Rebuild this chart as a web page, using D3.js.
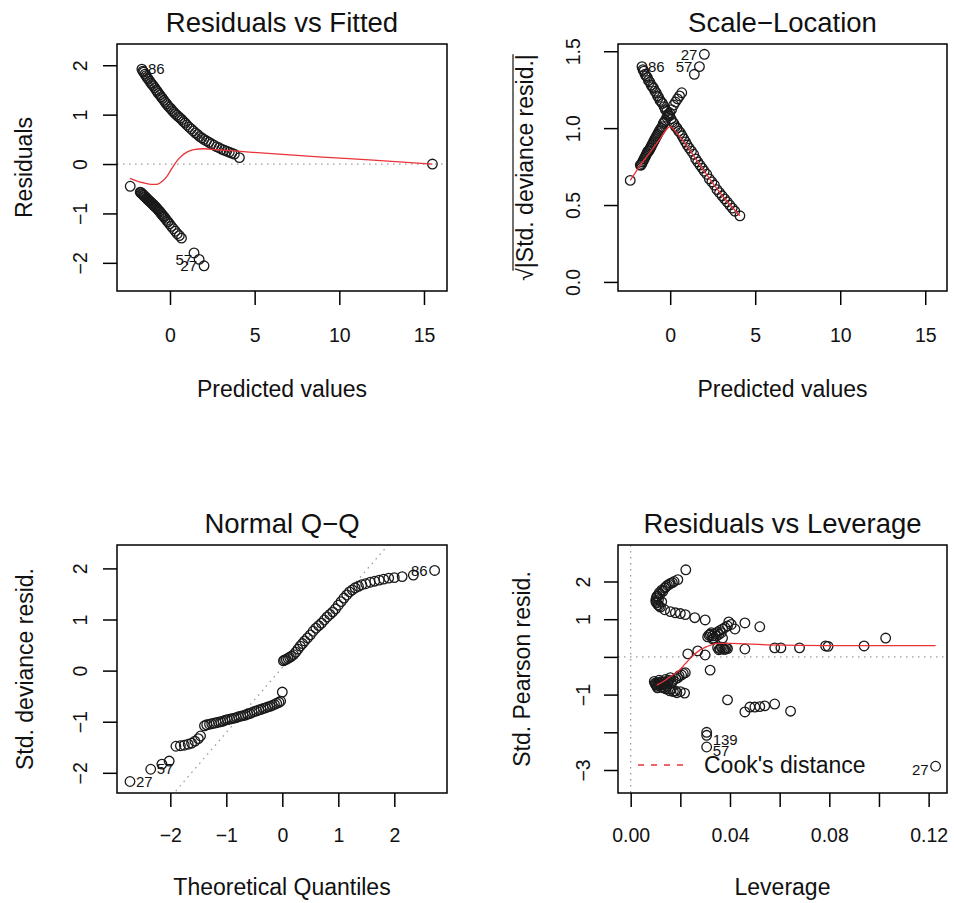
<!DOCTYPE html>
<html>
<head>
<meta charset="utf-8">
<script src="https://cdn.jsdelivr.net/npm/d3@7"></script>
<style>
  body { margin: 0; background: #fff; }
  svg text { font-family: "Liberation Sans", Arial, sans-serif; fill: #111; }
</style>
</head>
<body>
<script>
// ---- values ----

// cases with a positive residual (upper branch)
const fittedPos = [-1.66,-1.6,-1.55,-1.48,-1.42,-1.35,-1.28,-1.2,-1.12,-1.05,-0.98,-0.9,-0.82,-0.75,-0.68,
  -0.6,-0.52,-0.45,-0.36,-0.28,-0.2,-0.12,-0.04,0.05,0.14,0.22,0.31,0.4,0.5,0.6,0.7,0.8,0.9,1.0,1.12,
  1.25,1.38,1.5,1.62,1.75,1.88,2.0,2.15,2.3,2.45,2.6,2.75,2.9,3.05,3.2,3.35,3.5,3.65,3.8,4.1];
const residPos = [1.92,1.88,1.86,1.82,1.79,1.75,1.72,1.68,1.64,1.61,1.58,1.54,1.50,1.47,1.43,
  1.40,1.36,1.33,1.29,1.25,1.22,1.18,1.15,1.12,1.08,1.05,1.02,0.99,0.96,0.93,0.90,0.86,0.83,0.79,0.75,
  0.71,0.67,0.63,0.60,0.56,0.53,0.50,0.47,0.44,0.41,0.38,0.35,0.33,0.30,0.28,0.26,0.24,0.22,0.20,0.13];
const sqrtStdPos = [1.40,1.38,1.37,1.35,1.34,1.33,1.31,1.30,1.28,1.27,1.26,1.24,1.23,1.21,1.20,
  1.18,1.17,1.16,1.14,1.12,1.11,1.09,1.08,1.06,1.04,1.03,1.01,1.00,0.98,0.97,0.95,0.93,0.91,0.89,0.87,
  0.85,0.83,0.80,0.78,0.76,0.74,0.72,0.70,0.67,0.65,0.63,0.60,0.58,0.56,0.54,0.52,0.50,0.48,0.46,0.43];

// cases with a negative residual (lower branch)
const fittedNeg = [-2.35,-1.76,-1.71,-1.67,-1.62,-1.58,-1.53,-1.49,-1.44,-1.39,-1.36,-1.31,-1.26,-1.22,-1.17,
  -1.12,-1.08,-1.03,-0.98,-0.94,-0.89,-0.84,-0.79,-0.74,-0.7,-0.64,-0.59,-0.53,-0.47,-0.41,-0.35,
  -0.28,-0.2,-0.12,-0.03,0.08,0.2,0.31,0.43,0.55,0.68,1.42,1.72,2.01];
const residNeg = [-0.45,-0.57,-0.58,-0.6,-0.61,-0.63,-0.64,-0.66,-0.67,-0.69,-0.7,-0.72,-0.73,-0.75,-0.76,
  -0.78,-0.79,-0.81,-0.82,-0.84,-0.86,-0.87,-0.89,-0.91,-0.93,-0.95,-0.97,-1.0,-1.02,-1.05,-1.07,
  -1.1,-1.14,-1.17,-1.21,-1.26,-1.31,-1.36,-1.41,-1.45,-1.5,-1.80,-1.93,-2.06];
const sqrtStdNeg = [0.66,0.76,0.76,0.77,0.78,0.79,0.80,0.81,0.82,0.83,0.84,0.85,0.85,0.86,0.87,
  0.88,0.89,0.90,0.91,0.92,0.93,0.94,0.95,0.96,0.97,0.98,0.99,1.0,1.01,1.03,1.04,
  1.05,1.07,1.08,1.10,1.12,1.15,1.17,1.19,1.21,1.23,1.35,1.40,1.48];

// the case with leverage one (only in the first panel)
const fittedFar = [15.5];
const residFar = [0.0];

// red smooths
const smoothFitX = [-2.37,-1.9,-1.55,-1.1,-0.78,-0.45,-0.18,0.02,0.22,0.45,0.7,1.0,1.4,2.0,2.8,4.0,6.0,9.0,12.0,15.5];
const smoothFitY = [-0.29,-0.35,-0.38,-0.41,-0.41,-0.35,-0.25,-0.14,-0.03,0.08,0.17,0.24,0.29,0.31,0.29,0.26,0.21,0.14,0.08,0.0];
const smoothScaleX = [-2.35,-1.75,-1.2,-0.6,-0.15,0.0,0.3,1.0,2.0,3.0,4.1];
const smoothScaleY = [0.66,0.76,0.84,0.93,1.0,1.01,0.98,0.88,0.72,0.57,0.43];
const smoothLevX = [0.0105,0.013,0.016,0.0197,0.022,0.0246,0.027,0.0306,0.035,0.04,0.055,0.08,0.1,0.1228];
const smoothLevY = [-0.75,-0.66,-0.52,-0.35,-0.18,0.0,0.14,0.27,0.36,0.36,0.32,0.3,0.3,0.3];

// Normal Q-Q
const qqTheoretical = [-2.72,-2.35,-2.15,-2.02,-1.9,-1.82,-1.75,-1.68,-1.62,-1.56,-1.5,-1.46,
  -1.39,-1.35,-1.3,-1.26,-1.22,-1.18,-1.14,-1.1,-1.06,-1.02,-0.98,-0.94,-0.9,-0.86,-0.82,
  -0.78,-0.74,-0.7,-0.66,-0.62,-0.58,-0.54,-0.5,-0.46,-0.42,-0.38,-0.34,-0.3,-0.26,-0.22,
  -0.18,-0.14,-0.1,-0.06,-0.03,0.0,
  0.02,0.04,0.07,0.1,0.13,0.16,0.2,0.24,0.28,0.32,0.36,0.4,0.45,0.5,0.55,0.6,0.65,0.7,0.75,0.8,
  0.85,0.9,0.95,1.0,1.05,1.1,1.15,1.2,1.25,1.3,1.36,1.42,1.49,1.57,1.65,1.73,1.81,1.9,2.0,2.14,2.34,2.72];
const qqStdResid = [-2.17,-1.93,-1.83,-1.77,-1.48,-1.47,-1.46,-1.44,-1.42,-1.38,-1.33,-1.28,
  -1.08,-1.06,-1.05,-1.04,-1.03,-1.02,-1.01,-1.0,-0.99,-0.97,-0.96,-0.95,-0.94,-0.93,-0.92,
  -0.9,-0.89,-0.88,-0.87,-0.85,-0.84,-0.82,-0.8,-0.79,-0.77,-0.76,-0.74,-0.73,-0.71,-0.7,
  -0.68,-0.66,-0.64,-0.62,-0.6,-0.42,
  0.19,0.21,0.22,0.24,0.26,0.28,0.31,0.36,0.42,0.48,0.53,0.58,0.64,0.7,0.77,0.83,0.88,0.93,0.99,1.05,
  1.1,1.15,1.21,1.28,1.35,1.42,1.48,1.54,1.58,1.62,1.65,1.68,1.7,1.73,1.75,1.77,1.79,1.81,1.82,1.84,1.87,1.96];
const qqLineIntercept = 0.06;
const qqLineSlope = 1.27;

// Residuals vs Leverage
const leverage = [0.0222,0.019,0.0175,0.016,0.0148,0.0137,0.0125,0.0115,0.0108,0.0103,0.0101,0.0105,0.011,0.012,
  0.0137,0.016,0.018,0.02,0.022,0.0258,0.03,
  0.0105,0.0112,0.0118,0.0125,0.013,0.0142,0.0155,0.0168,0.0102,0.0115,
  0.031,0.032,0.033,0.034,0.035,0.036,0.037,0.038,0.039,0.0395,0.0405,0.042,0.046,0.052,0.033,
  0.0315,0.0325,0.0335,0.0345,0.0355,0.0365,0.037,
  0.035,0.036,0.037,0.038,0.039,0.0375,0.0385,0.0365,0.0355,
  0.046,0.058,0.0605,0.068,0.0785,0.0795,0.094,0.1027,
  0.023,0.027,0.03,0.032,
  0.0095,0.01,0.0105,0.011,0.0115,0.012,0.0125,0.013,0.0135,0.014,0.0145,0.015,0.016,0.016,0.017,0.018,
  0.019,0.02,0.0205,0.0217,0.022,
  0.0098,0.0102,0.0108,0.0112,0.0118,0.0122,0.0128,0.0132,0.0138,0.0142,0.0148,0.0155,0.0158,0.0165,
  0.0172,0.0182,0.0186,0.0195,0.0212,
  0.039,0.046,0.048,0.05,0.052,0.054,0.058,0.0644,
  0.0306,0.0306,0.0306,0.1228];
const stdPearson = [2.31,2.05,2.0,1.95,1.9,1.83,1.77,1.7,1.62,1.55,1.5,1.43,1.38,1.32,
  1.25,1.2,1.17,1.15,1.12,1.04,0.98,
  1.6,1.52,1.66,1.46,1.74,1.86,1.92,1.97,1.45,1.35,
  0.53,0.6,0.56,0.62,0.66,0.7,0.74,0.78,0.82,0.93,0.86,0.74,0.9,0.8,0.48,
  0.58,0.64,0.5,0.55,0.6,0.64,0.5,
  0.25,0.21,0.23,0.2,0.22,0.2,0.24,0.26,0.19,
  0.21,0.24,0.24,0.24,0.29,0.28,0.29,0.5,
  0.08,0.16,0.05,-0.35,
  -0.65,-0.72,-0.78,-0.69,-0.62,-0.75,-0.8,-0.68,-0.72,-0.6,-0.78,-0.66,-0.55,-0.85,-0.62,-0.9,
  -0.55,-0.92,-0.48,-0.96,-0.42,
  -0.7,-0.75,-0.82,-0.74,-0.7,-0.66,-0.74,-0.82,-0.66,-0.85,-0.72,-0.62,-0.9,-0.7,
  -0.92,-0.58,-0.95,-0.5,-0.44,
  -1.14,-1.46,-1.33,-1.33,-1.32,-1.3,-1.25,-1.44,
  -2.0,-2.08,-2.39,-2.9];

// labelled cases: [label, x, y, side]
const labelsFit = [["86",-1.66,1.92,"right"],["57",1.72,-1.93,"left"],["27",2.01,-2.06,"left"]];
const labelsScale = [["86",-1.66,1.40,"right"],["57",1.72,1.40,"left"],["27",2.01,1.48,"left"]];
const labelsQQ = [["27",-2.72,-2.17,"right"],["57",-2.35,-1.93,"right"],["86",2.72,1.96,"left"]];
const labelsLev = [["139",0.0306,-2.08,"right"],["57",0.0306,-2.39,"right"],["27",0.1228,-2.9,"left"]];

// axis ticks
const p1XTicks = [0,5,10,15], p1YTicks = [-2,-1,0,1,2];
const p2XTicks = [0,5,10,15], p2YTicks = [0,0.5,1,1.5], p2YLabels = ["0.0","0.5","1.0","1.5"];
const p3XTicks = [-2,-1,0,1,2], p3YTicks = [-2,-1,0,1,2];
const p4XTicks = [0,0.02,0.04,0.06,0.08,0.1,0.12], p4XLabels = ["0.00","","0.04","","0.08","","0.12"];
const p4YTicks = [-3,-2,-1,0,1,2], p4YLabels = ["\u22123","","\u22121","","1","2"];

// ---- drawing ----
const svg = d3.select("body").append("svg")
  .attr("width", 954)
  .attr("height", 903);

const minus = d => d < 0 ? "\u2212" + Math.abs(d) : String(d);
const RED = "#e8333a";

function panel(opt) {
  const x = d3.scaleLinear().domain(opt.xDomain).range([opt.left, opt.right]);
  const y = d3.scaleLinear().domain(opt.yDomain).range([opt.bottom, opt.top]);
  const g = svg.append("g");

  g.append("clipPath").attr("id", "clip-" + opt.key)
    .append("rect")
    .attr("x", opt.left).attr("y", opt.top)
    .attr("width", opt.right - opt.left).attr("height", opt.bottom - opt.top);
  const plot = g.append("g").attr("clip-path", `url(#clip-${opt.key})`);

  // reference lines (grey dotted)
  (opt.hRefs || []).forEach(v => {
    plot.append("line")
      .attr("x1", opt.left).attr("x2", opt.right)
      .attr("y1", y(v)).attr("y2", y(v))
      .attr("stroke", "#9a9a9a").attr("stroke-width", 1.3).attr("stroke-dasharray", "1.5,4.5");
  });
  (opt.vRefs || []).forEach(v => {
    plot.append("line")
      .attr("y1", opt.top).attr("y2", opt.bottom)
      .attr("x1", x(v)).attr("x2", x(v))
      .attr("stroke", "#9a9a9a").attr("stroke-width", 1.3).attr("stroke-dasharray", "1.5,4.5");
  });
  if (opt.abline) {
    const [a, b] = opt.abline;
    const [d0, d1] = opt.xDomain;
    plot.append("line")
      .attr("x1", x(d0)).attr("y1", y(a + b * d0))
      .attr("x2", x(d1)).attr("y2", y(a + b * d1))
      .attr("stroke", "#9a9a9a").attr("stroke-width", 1.3).attr("stroke-dasharray", "1.5,4.5");
  }

  // points
  plot.selectAll("circle.pt")
    .data(opt.points)
    .join("circle")
    .attr("class", "pt")
    .attr("cx", d => x(d[0]))
    .attr("cy", d => y(d[1]))
    .attr("r", 4.8)
    .attr("fill", "none")
    .attr("stroke", "#1a1a1a")
    .attr("stroke-width", 1.3);

  // smooth
  if (opt.smooth) {
    const line = d3.line().x(d => x(d[0])).y(d => y(d[1])).curve(d3.curveMonotoneX);
    plot.append("path")
      .attr("d", line(opt.smooth))
      .attr("fill", "none")
      .attr("stroke", RED)
      .attr("stroke-width", 1.3);
  }

  // case labels
  opt.labels.forEach(([lab, lx, ly, side]) => {
    g.append("text")
      .attr("x", x(lx) + (side === "right" ? 6 : -7))
      .attr("y", y(ly) + (opt.labelDy || 0))
      .attr("dy", "0.35em")
      .attr("text-anchor", side === "right" ? "start" : "end")
      .attr("font-size", 15)
      .text(lab);
  });

  // box
  g.append("rect")
    .attr("x", opt.left).attr("y", opt.top)
    .attr("width", opt.right - opt.left).attr("height", opt.bottom - opt.top)
    .attr("fill", "none").attr("stroke", "#000").attr("stroke-width", 1.5);

  // x axis
  const xAx = g.append("g")
    .attr("transform", `translate(0,${opt.bottom})`)
    .call(d3.axisBottom(x).tickValues(opt.xTicks).tickFormat(opt.xFormat).tickSize(14));
  xAx.attr("font-family", null).attr("font-size", null);
  xAx.select(".domain").remove();
  xAx.selectAll("line").attr("stroke", "#000").attr("stroke-width", 1.5);
  xAx.selectAll("text")
    .attr("dy", 0)
    .attr("y", opt.xTickBase)
    .attr("font-size", 19.5)
    .attr("fill", "#111");

  // y axis, labels turned like R's las = 0
  const yAx = g.append("g")
    .attr("transform", `translate(${opt.left},0)`)
    .call(d3.axisLeft(y).tickValues(opt.yTicks).tickFormat(opt.yFormat).tickSize(14));
  yAx.attr("font-family", null).attr("font-size", null);
  yAx.select(".domain").remove();
  yAx.selectAll("line").attr("stroke", "#000").attr("stroke-width", 1.5);
  yAx.selectAll("text")
    .attr("x", 0)
    .attr("dy", 0)
    .attr("text-anchor", "middle")
    .attr("transform", `translate(${-opt.yTickGap},0) rotate(-90)`)
    .attr("font-size", 19.5)
    .attr("fill", "#111");

  const cx = (opt.left + opt.right) / 2;
  const cy = (opt.top + opt.bottom) / 2;

  // title
  g.append("text")
    .attr("x", cx).attr("y", opt.titleBase)
    .attr("text-anchor", "middle")
    .attr("font-size", 27.5)
    .text(opt.title);

  // x label
  g.append("text")
    .attr("x", cx).attr("y", opt.xLabelBase)
    .attr("text-anchor", "middle")
    .attr("font-size", 23)
    .text(opt.xLabel);

  // y label
  const yl = g.append("text")
    .attr("transform", `translate(${opt.yLabelBase},${cy}) rotate(-90)`)
    .attr("text-anchor", "middle")
    .attr("font-size", 23);
  if (opt.sqrtLabel) {
    yl.append("tspan").text("\u221A");
    yl.append("tspan").text(opt.yLabel);
    const node = yl.node();
    const total = node.getComputedTextLength();
    const root = node.getSubStringLength(0, 1);
    g.append("line")
      .attr("transform", `translate(${opt.yLabelBase},${cy}) rotate(-90)`)
      .attr("x1", -total / 2 + root * 0.8).attr("x2", total / 2)
      .attr("y1", -20).attr("y2", -20)
      .attr("stroke", "#111").attr("stroke-width", 1.2);
  } else {
    yl.text(opt.yLabel);
  }

  return { g, x, y };
}

const zip = (a, b) => a.map((v, i) => [v, b[i]]);

// Residuals vs Fitted
panel({
  key: "fit", left: 117, right: 447, top: 44, bottom: 291,
  xDomain: [-3.13, 16.36], yDomain: [-2.57, 2.43],
  xTicks: p1XTicks, xFormat: minus, yTicks: p1YTicks, yFormat: minus,
  points: zip(fittedPos, residPos).concat(zip(fittedNeg, residNeg), zip(fittedFar, residFar)),
  smooth: zip(smoothFitX, smoothFitY),
  hRefs: [0],
  labels: labelsFit,
  title: "Residuals vs Fitted", xLabel: "Predicted values", yLabel: "Residuals",
  titleBase: 32, xTickBase: 50.5, xLabelBase: 396.5, yTickGap: 30, yLabelBase: 32
});

// Scale-Location
panel({
  key: "scale", left: 618, right: 947, top: 44, bottom: 291,
  xDomain: [-3.07, 16.28], yDomain: [-0.059, 1.547],
  xTicks: p2XTicks, xFormat: minus, yTicks: p2YTicks, yFormat: (d, i) => p2YLabels[i],
  points: zip(fittedPos, sqrtStdPos).concat(zip(fittedNeg, sqrtStdNeg)),
  smooth: zip(smoothScaleX, smoothScaleY),
  labels: labelsScale,
  title: "Scale\u2212Location", xLabel: "Predicted values", yLabel: "|Std. deviance resid.|", sqrtLabel: true,
  titleBase: 32, xTickBase: 50.5, xLabelBase: 396.5, yTickGap: 38, yLabelBase: 533
});

// Normal Q-Q
panel({
  key: "qq", left: 117, right: 447, top: 545, bottom: 793,
  xDomain: [-2.952, 2.941], yDomain: [-2.395, 2.458],
  xTicks: p3XTicks, xFormat: minus, yTicks: p3YTicks, yFormat: minus,
  points: zip(qqTheoretical, qqStdResid),
  abline: [qqLineIntercept, qqLineSlope],
  labels: labelsQQ,
  title: "Normal Q\u2212Q", xLabel: "Theoretical Quantiles", yLabel: "Std. deviance resid.",
  titleBase: 533, xTickBase: 49, xLabelBase: 895, yTickGap: 30, yLabelBase: 33
});

// Residuals vs Leverage
const lev = panel({
  key: "lev", left: 618, right: 947, top: 545, bottom: 793,
  xDomain: [-0.00511, 0.1274], yDomain: [-3.61, 2.968],
  xTicks: p4XTicks, xFormat: (d, i) => p4XLabels[i], yTicks: p4YTicks, yFormat: (d, i) => p4YLabels[i],
  points: zip(leverage, stdPearson),
  smooth: zip(smoothLevX, smoothLevY),
  hRefs: [0], vRefs: [0],
  labels: labelsLev, labelDy: 4,
  title: "Residuals vs Leverage", xLabel: "Leverage", yLabel: "Std. Pearson resid.",
  titleBase: 533, xTickBase: 49, xLabelBase: 895, yTickGap: 28, yLabelBase: 530
});

// legend
lev.g.append("line")
  .attr("x1", 638).attr("x2", 684)
  .attr("y1", 765).attr("y2", 765)
  .attr("stroke", RED).attr("stroke-width", 1.3).attr("stroke-dasharray", "6,7");
lev.g.append("text")
  .attr("x", 704).attr("y", 773)
  .attr("font-size", 23)
  .text("Cook's distance");
</script>
</body>
</html>
